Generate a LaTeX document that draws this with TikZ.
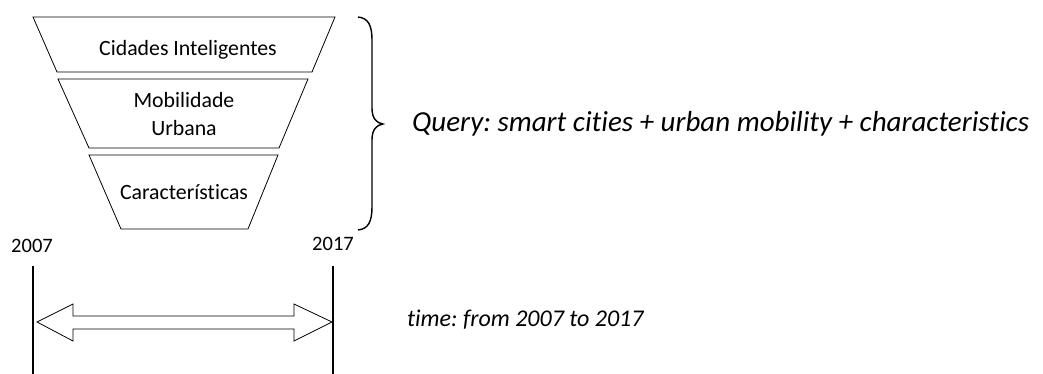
\documentclass[tikz,border=0pt]{standalone}
\usepackage{fontspec}
\setmainfont{Carlito}[Ligatures=NoCommon]
\frenchspacing
\tikzset{
  layer/.style={draw=black, line width=0.8pt, line join=miter},
  layertext/.style={font=\fontsize{21.8}{27.5}\selectfont, align=center, inner sep=0pt},
  yeartext/.style={font=\fontsize{20.5}{24}\selectfont, inner sep=0pt},
  notetext/.style={font=\itshape\fontsize{24}{28}\selectfont, anchor=west, inner sep=0pt},
  querytext/.style={notetext, font=\itshape\fontsize{29}{34}\selectfont},
  bound/.style={line width=2.2pt},
  bracket/.style={line width=1.4pt},
  span/.style={draw=black, fill=white, line width=0.8pt, line join=miter}
}
\begin{document}
\begin{tikzpicture}[x=1pt, y=-1pt]
\useasboundingbox (0,0) rectangle (1043,374);

% funnel layers
\draw[layer] (33,17) -- (335,17) -- (312,72) -- (57,72) -- cycle;
\draw[layer] (58,79) -- (308,79) -- (279,148) -- (89,148) -- cycle;
\draw[layer] (89,155) -- (278,155) -- (248,229) -- (121,229) -- cycle;
\node[layertext] (l1) at (188,50) {Cidades Inteligentes};
\node[layertext] (l2) at (184,114) {Mobilidade\\Urbana};
\node[layertext] (l3) at (184,192) {Características};

% curly brace grouping the layers
\draw[bracket] (358,17) .. controls (368,18) and (372,25) .. (372,40)
  -- (372,108) .. controls (372,118) and (376,123) .. (383,124)
  .. controls (376,125) and (372,130) .. (372,140)
  -- (372,207) .. controls (372,222) and (368,229) .. (358,230);
\node[querytext] (q) at (412,124) {Query: smart cities + urban mobility + characteristics};

% time span
\node[yeartext] (y1) at (32,246) {2007};
\node[yeartext] (y2) at (333,244) {2017};
\coordinate (a1) at (33,266);
\coordinate (b1) at (33,374);
\coordinate (a2) at (333,266);
\coordinate (b2) at (333,374);
\draw[bound] (a1) -- (b1);
\draw[bound] (a2) -- (b2);
\draw[span] (37,322) -- (73,304) -- (73,316) -- (294,316) -- (294,304)
  -- (332,322) -- (294,341) -- (294,329) -- (73,329) -- (73,341) -- cycle;
\node[notetext] (t) at (407,320) {time: from 2007 to 2017};
\end{tikzpicture}
\end{document}
